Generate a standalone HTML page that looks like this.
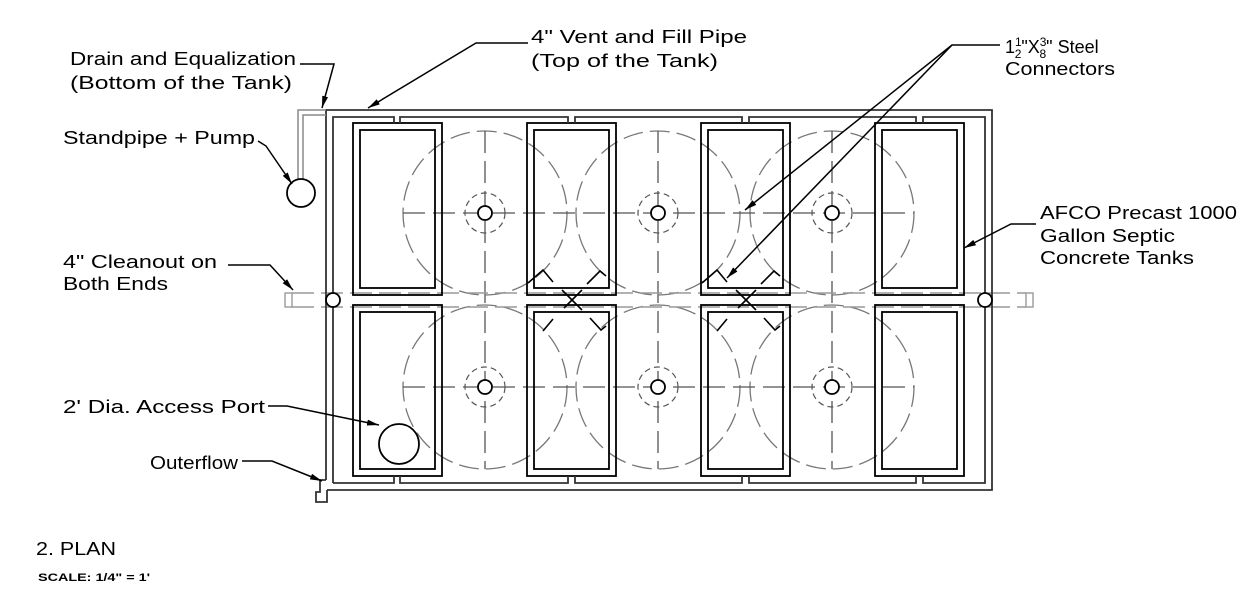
<!DOCTYPE html>
<html><head><meta charset="utf-8"><style>
html,body{margin:0;padding:0;background:#fff;}
svg{display:block;}
text{font-family:"Liberation Sans",sans-serif;font-size:18px;fill:#000;}
</style></head><body>
<svg width="1249" height="600" viewBox="0 0 1249 600" xmlns="http://www.w3.org/2000/svg">
<defs>
<marker id="ar" viewBox="0 0 12 6" refX="12" refY="3" markerWidth="12" markerHeight="6" orient="auto" markerUnits="userSpaceOnUse"><path d="M0,0 L12,3 L0,6 Z" fill="#000"/></marker>
</defs>
<g fill="none" stroke="#777" stroke-width="1.3" stroke-dasharray="20,7">
<circle cx="485" cy="213" r="82"/><circle cx="658" cy="213" r="82"/><circle cx="832" cy="213" r="82"/>
<circle cx="485" cy="387" r="82"/><circle cx="658" cy="387" r="82"/><circle cx="832" cy="387" r="82"/>
</g>
<g fill="none" stroke="#555" stroke-width="1.3" stroke-dasharray="22,8">
<line x1="403" y1="213" x2="914" y2="213"/><line x1="403" y1="387" x2="914" y2="387"/>
<line x1="485" y1="131" x2="485" y2="469"/><line x1="658" y1="131" x2="658" y2="469"/><line x1="832" y1="131" x2="832" y2="469"/>
</g>
<g fill="none" stroke="#555" stroke-width="1.2" stroke-dasharray="6,4">
<circle cx="485" cy="213" r="20"/><circle cx="658" cy="213" r="20"/><circle cx="832" cy="213" r="20"/>
<circle cx="485" cy="387" r="20"/><circle cx="658" cy="387" r="20"/><circle cx="832" cy="387" r="20"/>
</g>
<g fill="none" stroke="#999" stroke-width="1.6" stroke-dasharray="22,7">
<line x1="292" y1="293" x2="1026" y2="293"/><line x1="292" y1="307" x2="1026" y2="307"/>
</g>
<g fill="none" stroke="#999" stroke-width="1.4">
<rect x="285" y="293" width="7" height="14"/><rect x="1026" y="293" width="7" height="14"/>
</g>
<g fill="none" stroke="#000" stroke-width="1.8">
<rect x="353" y="123" width="89" height="172"/><rect x="360" y="130" width="75" height="158"/>
<rect x="527" y="123" width="89" height="172"/><rect x="534" y="130" width="75" height="158"/>
<rect x="701" y="123" width="89" height="172"/><rect x="708" y="130" width="75" height="158"/>
<rect x="875" y="123" width="89" height="172"/><rect x="882" y="130" width="75" height="158"/>
<rect x="353" y="305" width="89" height="171"/><rect x="360" y="312" width="75" height="157"/>
<rect x="527" y="305" width="89" height="171"/><rect x="534" y="312" width="75" height="157"/>
<rect x="701" y="305" width="89" height="171"/><rect x="708" y="312" width="75" height="157"/>
<rect x="875" y="305" width="89" height="171"/><rect x="882" y="312" width="75" height="157"/>
</g>
<g fill="#fff" stroke="#000" stroke-width="1.8">
<circle cx="485" cy="213" r="7"/><circle cx="658" cy="213" r="7"/><circle cx="832" cy="213" r="7"/>
<circle cx="485" cy="387" r="7"/><circle cx="658" cy="387" r="7"/><circle cx="832" cy="387" r="7"/>
</g>
<g fill="none" stroke="#333" stroke-width="1.8">
<path d="M326 480 L326 110 L992 110 L992 490 L327 490"/>
<path d="M326 480 L320 480 L320 492 L316 492 L316 502 L327 502 L327 490"/>
<path d="M333 483 L333 117 L394 117 L394 123 M400 123 L400 117 L568 117 L568 123 M575 123 L575 117 L742 117 L742 123 M749 123 L749 117 L916 117 L916 123 M923 123 L923 117 L985 117 L985 483 L923 483 L923 476 M916 476 L916 483 L749 483 L749 476 M742 476 L742 483 L575 483 L575 476 M568 476 L568 483 L400 483 L400 476 M394 476 L394 483 L333 483"/>
</g>
<g fill="none" stroke="#888" stroke-width="1.5">
<path d="M298 180 L298 110 L326 110"/><path d="M303 180 L303 115 L326 115"/>
</g>
<g fill="#fff" stroke="#000" stroke-width="1.8">
<circle cx="301" cy="193" r="14"/>
<circle cx="333" cy="300" r="7"/><circle cx="985" cy="300" r="7"/>
<circle cx="399" cy="444" r="20"/>
</g>
<g fill="none" stroke="#000" stroke-width="1.6">
<path d="M528 283 L543 270 L553 282 M587 284 L600 271 L606 276 M562 290 L582 310 M582 290 L564 308"/>
<path d="M543 331 L553 319 M590 318 L601 330 L606 326"/>
<path d="M702 283 L717 270 L727 282 M761 284 L774 271 L780 276 M736 290 L756 310 M756 290 L738 308"/>
<path d="M717 331 L727 319 M764 318 L775 330 L780 326"/>
</g>
<g fill="none" stroke="#000" stroke-width="1.5">
<path d="M300 64 L334 64 L322 108" marker-end="url(#ar)"/>
<path d="M528 43 L476 43 L368 108" marker-end="url(#ar)"/>
<path d="M1000 45 L952 45 L745 210" marker-end="url(#ar)"/>
<path d="M952 45 L727 278" marker-end="url(#ar)"/>
<path d="M258 141 L266 146 L292 184" marker-end="url(#ar)"/>
<path d="M1036 224 L1011 224 L964 248" marker-end="url(#ar)"/>
<path d="M228 265 L270 265 L293 290" marker-end="url(#ar)"/>
<path d="M268 406 L287 406 L379 425" marker-end="url(#ar)"/>
<path d="M242 461 L272 461 L322 481" marker-end="url(#ar)"/>
</g>
<text x="70" y="65" textLength="226" lengthAdjust="spacingAndGlyphs">Drain and Equalization</text>
<text x="70" y="89" textLength="222" lengthAdjust="spacingAndGlyphs">(Bottom of the Tank)</text>
<text x="531" y="43" textLength="216" lengthAdjust="spacingAndGlyphs">4" Vent and Fill Pipe</text>
<text x="531" y="67" textLength="187" lengthAdjust="spacingAndGlyphs">(Top of the Tank)</text>
<text x="1005" y="53" font-size="19">1<tspan font-size="12" dy="-7">1</tspan><tspan font-size="12" dx="-7" dy="12">2</tspan><tspan dy="-5">"X</tspan><tspan font-size="12" dy="-7">3</tspan><tspan font-size="12" dx="-7" dy="12">8</tspan><tspan dy="-5">"  Steel</tspan></text>
<text x="1005" y="75" textLength="110" lengthAdjust="spacingAndGlyphs">Connectors</text>
<text x="63" y="144" textLength="192" lengthAdjust="spacingAndGlyphs">Standpipe + Pump</text>
<text x="1040" y="219" textLength="197" lengthAdjust="spacingAndGlyphs">AFCO Precast 1000</text>
<text x="1040" y="242" textLength="135" lengthAdjust="spacingAndGlyphs">Gallon Septic</text>
<text x="1040" y="264" textLength="154" lengthAdjust="spacingAndGlyphs">Concrete Tanks</text>
<text x="63" y="268" textLength="154" lengthAdjust="spacingAndGlyphs">4" Cleanout on</text>
<text x="63" y="290" textLength="105" lengthAdjust="spacingAndGlyphs">Both Ends</text>
<text x="63" y="413" textLength="202" lengthAdjust="spacingAndGlyphs">2' Dia. Access Port</text>
<text x="150" y="469" textLength="88" lengthAdjust="spacingAndGlyphs">Outerflow</text>
<text x="36" y="555" textLength="80" lengthAdjust="spacingAndGlyphs">2. PLAN</text>
<text x="38" y="581" style="font-size:11px;font-weight:bold" textLength="112" lengthAdjust="spacingAndGlyphs">SCALE: 1/4" = 1'</text>
</svg>
</body></html>
